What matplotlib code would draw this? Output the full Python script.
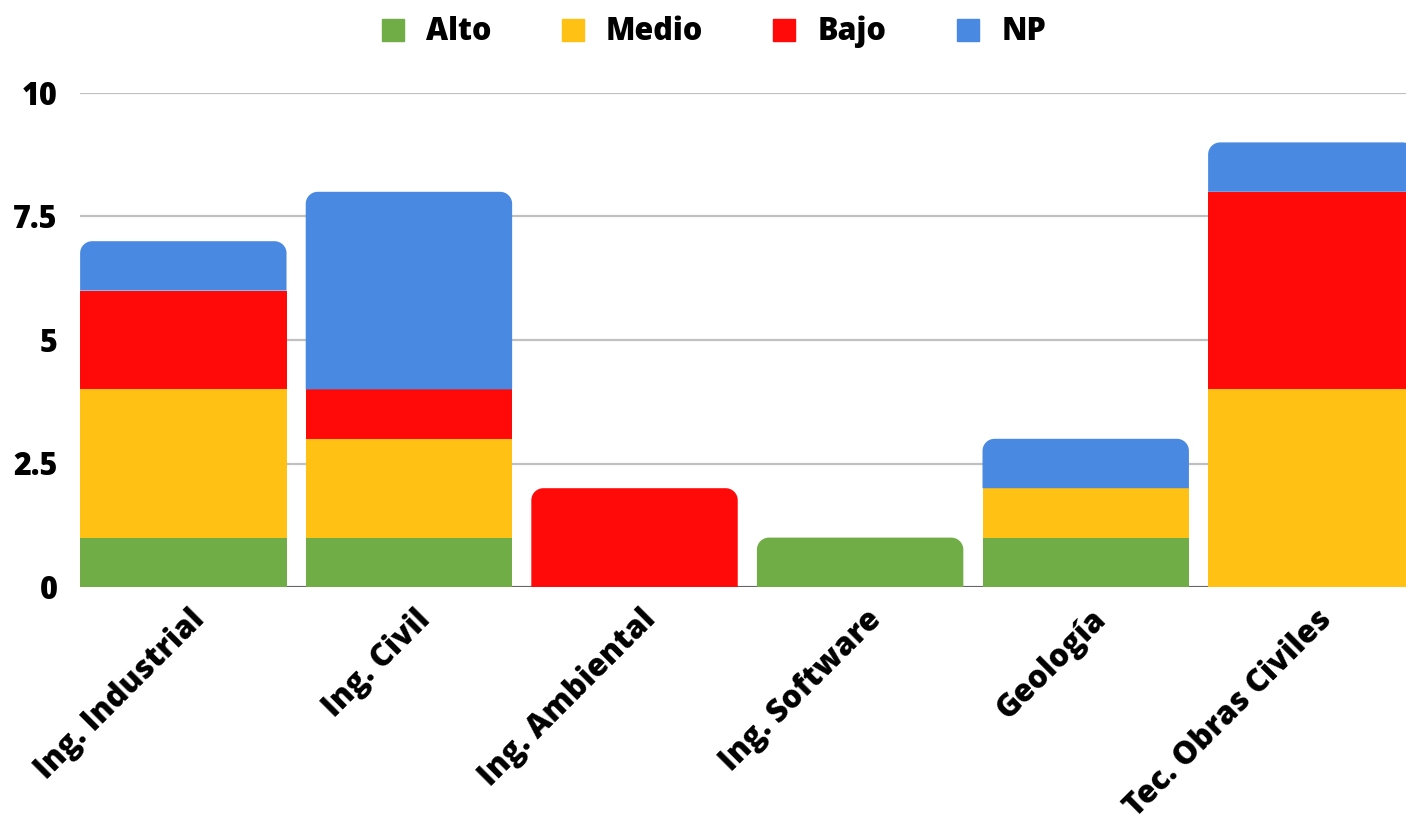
import numpy as np
import matplotlib
matplotlib.use("Agg")
import matplotlib.pyplot as plt
from matplotlib.path import Path
from matplotlib.patches import PathPatch, Rectangle
from matplotlib.lines import Line2D

plt.rcParams['font.family'] = ['Open Sans', 'DejaVu Sans']

categories = ["Ing. Industrial", "Ing. Civil", "Ing. Ambiental", "Ing. Software",
              "Geología", "Tec. Obras Civiles"]
series = ["Alto", "Medio", "Bajo", "NP"]
alto = [1, 1, 0, 1, 1, 0]
medio = [3, 2, 0, 0, 1, 4]
bajo = [2, 1, 2, 0, 0, 4]
np_vals = [1, 4, 0, 0, 1, 1]
colors = ["#70AD47", "#FFC113", "#FF0909", "#4A89E2"]

yticks = [0, 2.5, 5, 7.5, 10]
ytick_labels = ["0", "2.5", "5", "7.5", "10"]

W, H = 1406, 823
fig = plt.figure(figsize=(W / 100, H / 100), dpi=100)
ax = fig.add_axes([80 / W, 1 - 587 / H, 1326 / W, (587 - 93) / H])

width = 0.915
xlim = (-0.458, -0.458 + 1326 / 225.6)
ax.set_xlim(*xlim)
ax.set_ylim(0, 10)

# pixels per data unit, for round corners
ppx = 1326 / (xlim[1] - xlim[0])
ppy = 494 / 10.0
r_px = 12
rx, ry = r_px / ppx, r_px / ppy
k = 0.5523


def rounded_top(x0, y0, w, h, color):
    x1, y1 = x0 + w, y0 + h
    verts = [(x0, y0), (x1, y0), (x1, y1 - ry),
             (x1, y1 - ry + k * ry), (x1 - rx + k * rx, y1), (x1 - rx, y1),
             (x0 + rx, y1),
             (x0 + rx - k * rx, y1), (x0, y1 - ry + k * ry), (x0, y1 - ry),
             (x0, y0)]
    codes = [Path.MOVETO, Path.LINETO, Path.LINETO,
             Path.CURVE4, Path.CURVE4, Path.CURVE4,
             Path.LINETO,
             Path.CURVE4, Path.CURVE4, Path.CURVE4,
             Path.CLOSEPOLY]
    ax.add_patch(PathPatch(Path(verts, codes), facecolor=color, edgecolor="none",
                           zorder=3))


data = [alto, medio, bajo, np_vals]
x = np.arange(len(categories))
for i in range(len(categories)):
    bottom = 0
    vals = [d[i] for d in data]
    top_idx = max(j for j in range(4) if vals[j] > 0)
    for j in range(4):
        if vals[j] == 0:
            continue
        x0 = x[i] - width / 2
        if j == top_idx:
            rounded_top(x0, bottom, width, vals[j], colors[j])
        else:
            ax.add_patch(Rectangle((x0, bottom), width, vals[j], facecolor=colors[j],
                                   edgecolor="none", zorder=3))
        bottom += vals[j]

ax.set_yticks(yticks)
ax.set_yticklabels(ytick_labels)
ax.yaxis.grid(True, color="#C0C0C0", linewidth=1.6, zorder=0)
ax.set_axisbelow(True)
ax.axhline(0, color="#666666", linewidth=2.2, zorder=2)
for s in ax.spines.values():
    s.set_visible(False)
ax.tick_params(axis="both", length=0, labelsize=22)
ax.tick_params(axis="y", pad=16)
ax.set_xticks(x)
ax.set_xticklabels(categories, rotation=45, ha="right", rotation_mode="anchor",
                   fontsize=22.5)
ax.tick_params(axis="x", pad=12)
# shift the rotated labels a touch to the right
from matplotlib.transforms import ScaledTranslation
for lbl in ax.get_xticklabels():
    lbl.set_transform(lbl.get_transform() + ScaledTranslation(5 / 100, 0, fig.dpi_scale_trans))
for lbl in ax.get_xticklabels() + ax.get_yticklabels():
    lbl.set_fontweight(800)

handles = [Line2D([], [], marker="s", linestyle="none", markersize=16,
                  markerfacecolor=c, markeredgecolor=c) for c in colors]
fig.legend(handles, series, loc="center", bbox_to_anchor=(714 / W, 1 - 32 / H),
           ncol=4, frameon=False, prop={"size": 22, "weight": 800},
           handlelength=0.7, handletextpad=0.75, columnspacing=2.3)

fig.savefig("out.png", dpi=100)
